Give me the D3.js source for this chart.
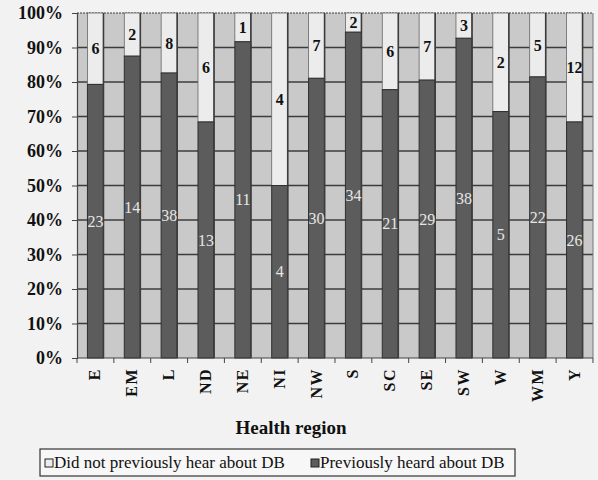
<!DOCTYPE html>
<html>
<head>
<meta charset="utf-8">
<script src="https://cdn.jsdelivr.net/npm/d3@7"></script>
<style>
  html, body { margin: 0; padding: 0; background: #f2f2f2; }
  svg { display: block; }
</style>
</head>
<body>
<svg id="chart" width="598" height="480"></svg>
<script>
// Awareness of DB by health region (counts of respondents)
const regions = ["E", "EM", "L", "ND", "NE", "NI", "NW", "S", "SC", "SE", "SW", "W", "WM", "Y"];
const notHeard = [6, 2, 8, 6, 1, 4, 7, 2, 6, 7, 3, 2, 5, 12];
const heard    = [23, 14, 38, 13, 11, 4, 30, 34, 21, 29, 38, 5, 22, 26];
const yTicks = [0, 0.1, 0.2, 0.3, 0.4, 0.5, 0.6, 0.7, 0.8, 0.9, 1];
const seriesNames = ["Did not previously hear about DB", "Previously heard about DB"];

const rows = regions.map((r, i) => ({ region: r, heard: heard[i], notHeard: notHeard[i], total: heard[i] + notHeard[i] }));

const svg = d3.select("#chart");
const m = { left: 77, right: 5, top: 13, bottom: 122 };
const W = 598, H = 480;
const plotW = W - m.left - m.right, plotH = H - m.top - m.bottom;
const serif = "Liberation Serif";

const x = d3.scaleBand().domain(regions).range([m.left, m.left + plotW]).paddingInner(0.565).paddingOuter(0.283);
const y = d3.scaleLinear().domain([0, 1]).range([m.top + plotH, m.top]);

const colLight = "#ececec", colDark = "#5c5c5c", colGrid = "#3c3c3c";

// plot area
svg.append("rect").attr("x", m.left).attr("y", m.top).attr("width", plotW).attr("height", plotH)
  .attr("fill", "#c9c9c9");

// horizontal gridlines
svg.append("g").selectAll("line").data(yTicks.slice(1)).join("line")
  .attr("x1", m.left).attr("x2", m.left + plotW)
  .attr("y1", d => y(d)).attr("y2", d => y(d))
  .attr("stroke", colGrid).attr("stroke-width", d => d === 1 ? 1 : 1.6)
  .attr("stroke-dasharray", d => d === 1 ? "2,1" : null);

// right edge of plot
svg.append("line").attr("x1", m.left + plotW).attr("x2", m.left + plotW)
  .attr("y1", m.top).attr("y2", m.top + plotH).attr("stroke", "#777").attr("stroke-width", 1);

// stacked bars
const bars = svg.append("g").selectAll("g").data(rows).join("g");
bars.append("rect")
  .attr("x", d => x(d.region)).attr("width", x.bandwidth())
  .attr("y", d => y(1)).attr("height", d => y(d.heard / d.total) - y(1))
  .attr("fill", colLight).attr("stroke", "#666").attr("stroke-width", 0.8);
bars.append("rect")
  .attr("x", d => x(d.region)).attr("width", x.bandwidth())
  .attr("y", d => y(d.heard / d.total)).attr("height", d => y(0) - y(d.heard / d.total))
  .attr("fill", colDark).attr("stroke", "#2e2e2e").attr("stroke-width", 1);

// vertical rules along each bar's right side
bars.append("line")
  .attr("x1", d => x(d.region) + x.bandwidth()).attr("x2", d => x(d.region) + x.bandwidth())
  .attr("y1", m.top).attr("y2", m.top + plotH)
  .attr("stroke", colGrid).attr("stroke-width", 1.6);

// segment labels
bars.append("text")
  .attr("x", d => x(d.region) + x.bandwidth() / 2)
  .attr("y", d => y((1 + d.heard / d.total) / 2))
  .attr("dy", "0.35em").attr("text-anchor", "middle")
  .attr("font-family", serif).attr("font-weight", "bold").attr("font-size", 16)
  .attr("fill", "#111").text(d => d.notHeard);
bars.append("text")
  .attr("x", d => x(d.region) + x.bandwidth() / 2)
  .attr("y", d => y(d.heard / d.total / 2))
  .attr("dy", "0.35em").attr("text-anchor", "middle")
  .attr("font-family", serif).attr("font-size", 16)
  .attr("fill", "#e6e6e6").text(d => d.heard);

// y axis
const yAxis = svg.append("g").attr("transform", `translate(${m.left},0)`)
  .call(d3.axisLeft(y).tickValues(yTicks).tickFormat(d3.format(".0%")).tickSize(5).tickPadding(9));
yAxis.select(".domain").attr("stroke", "#444").attr("stroke-width", 1.2);
yAxis.selectAll(".tick line").attr("stroke", "#444");
yAxis.selectAll("text").attr("font-family", serif).attr("font-weight", "bold")
  .attr("font-size", 18).attr("fill", "#111");

// x axis with ticks at band boundaries
const xAxisG = svg.append("g").attr("transform", `translate(0,${m.top + plotH})`);
xAxisG.append("line").attr("x1", m.left).attr("x2", m.left + plotW).attr("stroke", "#444").attr("stroke-width", 1.2);
const bounds = d3.range(regions.length + 1).map(i => m.left + i * x.step());
xAxisG.selectAll("line.tk").data(bounds).join("line").attr("class", "tk")
  .attr("x1", d => d).attr("x2", d => d).attr("y1", 0).attr("y2", 5).attr("stroke", "#444");
xAxisG.selectAll("text").data(regions).join("text")
  .attr("transform", d => `translate(${x(d) + x.bandwidth() / 2 + 5},10) rotate(-90)`)
  .attr("text-anchor", "end")
  .attr("font-family", serif).attr("font-weight", "bold").attr("font-size", 16)
  .attr("letter-spacing", 1.5)
  .attr("fill", "#111").text(d => d);

// axis title
svg.append("text").attr("x", 291).attr("y", 434).attr("text-anchor", "middle")
  .attr("font-family", serif).attr("font-weight", "bold").attr("font-size", 19)
  .attr("fill", "#111").text("Health region");

// legend
const lg = svg.append("g");
lg.append("rect").attr("x", 40).attr("y", 449).attr("width", 475).attr("height", 27)
  .attr("fill", "#f7f7f7").attr("stroke", "#333").attr("stroke-width", 1.2);
const legendItems = [
  { name: seriesNames[0], fill: colLight, x: 45 },
  { name: seriesNames[1], fill: colDark, x: 311 }
];
legendItems.forEach(it => {
  lg.append("rect").attr("x", it.x).attr("y", 459).attr("width", 8).attr("height", 8)
    .attr("fill", it.fill).attr("stroke", "#222").attr("stroke-width", 1);
  lg.append("text").attr("x", it.x + 9).attr("y", 468)
    .attr("font-family", serif).attr("font-size", 17).attr("fill", "#111").text(it.name);
});
</script>
</body>
</html>
